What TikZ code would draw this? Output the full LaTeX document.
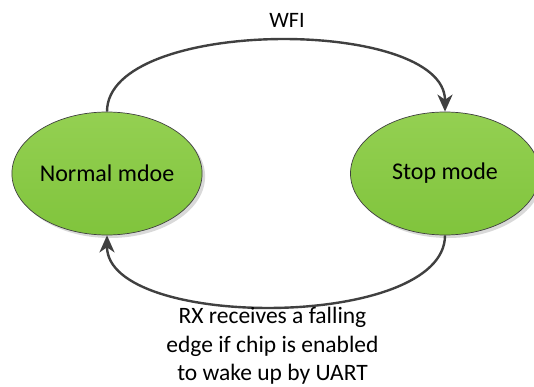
\documentclass[tikz,border=0pt]{standalone}
\usepackage{fontspec}
\setmainfont{Carlito}
\usetikzlibrary{shapes.geometric,arrows.meta,shadows}
\definecolor{lineg}{RGB}{64,64,64}
\definecolor{gtop}{RGB}{148,208,82}
\definecolor{gbot}{RGB}{128,196,60}
\tikzset{
  state/.style={ellipse, draw=lineg, line width=0.7pt, top color=gtop, bottom color=gbot,
    minimum width=189pt, minimum height=123pt, inner sep=0pt, font=\fontsize{24}{28}\selectfont,
    drop shadow={shadow xshift=3pt, shadow yshift=-3pt, fill=black!15, opacity=1}},
  trans/.style={draw=lineg, line width=2.4pt, -{Stealth[length=17pt,width=15pt,inset=5pt]}},
  lbl/.style={font=\fontsize{23.5}{28.5}\selectfont, align=center, inner sep=0pt}
}
\begin{document}
\begin{tikzpicture}[x=1pt,y=-1pt]
\useasboundingbox (0,0) rectangle (534,387);
\node[state] (n) at (107,173.5) {Normal mdoe};
\node[state] (s) at (445,173.5) {Stop mode};
\draw[trans] (n.north) to[out=90,in=90,looseness=0.72] (s.north);
\draw[trans] (s.south) to[out=-90,in=-90,looseness=0.72] (n.south);
\node[lbl, font=\fontsize{22}{26}\selectfont] (w) at (287,20) {WFI};
\node[lbl, anchor=north] (r) at (272.5,307) {RX receives a falling\\edge if chip is enabled\\to wake up by UART};
\end{tikzpicture}
\end{document}
